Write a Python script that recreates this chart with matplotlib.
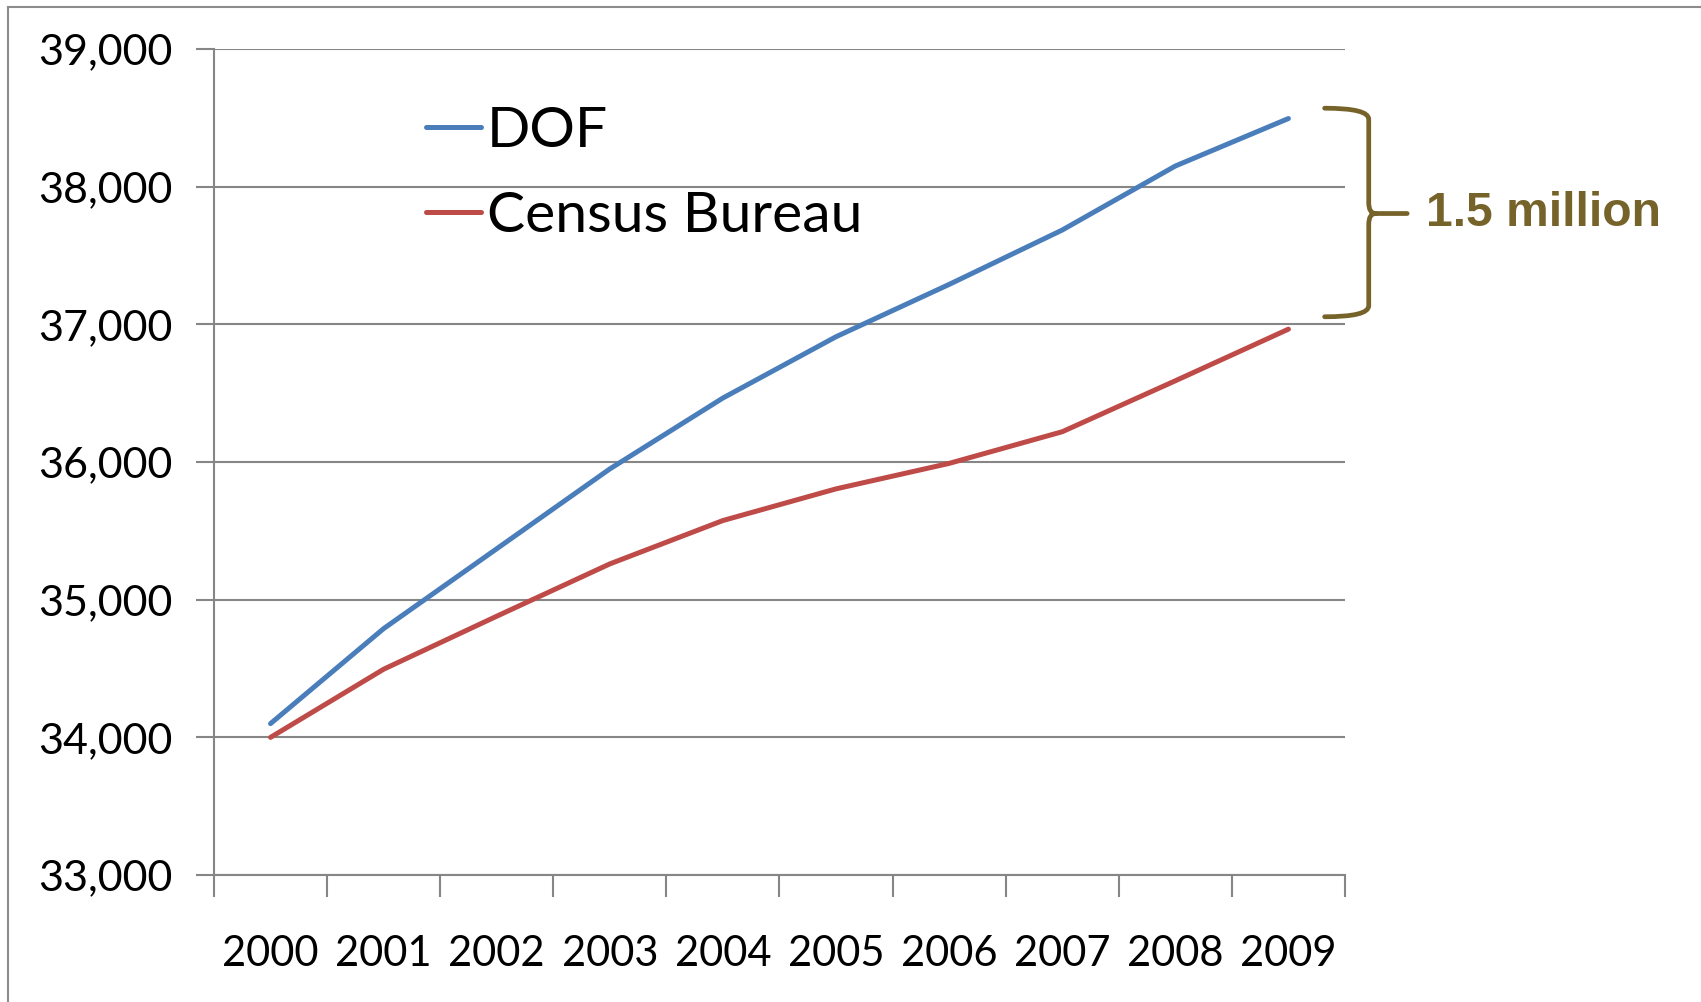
import matplotlib
matplotlib.use('Agg')
from matplotlib import pyplot as plt
from matplotlib.path import Path
from matplotlib.patches import PathPatch
from matplotlib.lines import Line2D
from matplotlib.ticker import FuncFormatter

years = ['2000', '2001', '2002', '2003', '2004', '2005', '2006', '2007', '2008', '2009']
dof = [34100, 34790, 35370, 35950, 36465, 36910, 37290, 37685, 38150, 38495]  # miles
census = [34000, 34495, 34880, 35260, 35575, 35805, 35990, 36220, 36590, 36965]
gap_label = '1.5 million'

olive = '#76632A'
gris = '#868686'

plt.rcParams['font.family'] = ['Lato', 'DejaVu Sans']

fig = plt.figure(figsize=(17.01, 10.02), dpi=100)
ax = fig.add_axes([0.1258, 0.1267, 0.7907 - 0.1258, 0.9511 - 0.1267])

x = list(range(len(years)))
ax.plot(x, dof, color='#4A7EBB', lw=3.6, label='DOF', solid_capstyle='round')
ax.plot(x, census, color='#BE4B48', lw=3.6, label='Census Bureau', solid_capstyle='round')

ax.set_xlim(-0.5, len(years) - 0.5)
ax.set_ylim(33000, 39000)
ax.set_yticks(range(33000, 39001, 1000))
ax.yaxis.set_major_formatter(FuncFormatter(lambda v, p: f'{int(v):,}'))
ax.set_xticks(x)
ax.set_xticklabels(years)
ax.set_xticks([i - 0.5 for i in range(len(years) + 1)], minor=True)

ax.grid(axis='y', color=gris, lw=1.5)
ax.set_axisbelow(True)
for s in ['top', 'right']:
    ax.spines[s].set_visible(False)
for s in ['left', 'bottom']:
    ax.spines[s].set_color(gris)
    ax.spines[s].set_linewidth(1.5)

ax.tick_params(axis='y', length=13, width=1.5, color=gris, labelsize=31, pad=17)
ax.tick_params(axis='x', which='major', length=0, labelsize=30, pad=43)
ax.tick_params(axis='x', which='minor', length=16, width=1.5, color=gris)

leg = ax.legend(loc='upper left', bbox_to_anchor=(0.167, 0.959), frameon=False, fontsize=41,
                handlelength=0.98, handletextpad=0.1, labelspacing=0.6, borderaxespad=0)
for h in leg.get_lines():
    h.set_solid_capstyle('round')

# llave de la diferencia
top, mid, bot = 38570, 37805, 37055
xl, xv, xt = 9.32, 9.71, 10.05
d = 80
dx = 0.06
verts = [(xl, top), (xv, top), (xv, top - d),
         (xv, mid + d),
         (xv, mid), (xv + dx, mid),
         (xt, mid),
         (xv + dx, mid),
         (xv, mid), (xv, mid - d),
         (xv, bot + d),
         (xv, bot), (xl, bot)]
codes = [Path.MOVETO, Path.CURVE3, Path.CURVE3,
         Path.LINETO,
         Path.CURVE3, Path.CURVE3,
         Path.LINETO,
         Path.MOVETO,
         Path.CURVE3, Path.CURVE3,
         Path.LINETO,
         Path.CURVE3, Path.CURVE3]
brace = PathPatch(Path(verts, codes), fill=False, ec=olive, lw=3.4, clip_on=False,
                  capstyle='round', joinstyle='round')
ax.add_patch(brace)
ax.text(10.22, mid, gap_label, color=olive, fontsize=34.6, fontweight='bold',
        family=['Liberation Sans', 'DejaVu Sans'], va='center', ha='left', clip_on=False)

# marco
fig.add_artist(Line2D([8 / 1701, 1], [1 - 7 / 1002, 1 - 7 / 1002], color='#8c8c8c', lw=1.5))
fig.add_artist(Line2D([8 / 1701, 8 / 1701], [0, 1 - 7 / 1002], color='#8c8c8c', lw=1.5))

fig.savefig('out.png', dpi=100)
